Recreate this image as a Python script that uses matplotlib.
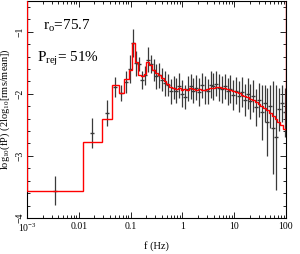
import numpy as np
import matplotlib
matplotlib.use("Agg")
import matplotlib.pyplot as plt
from matplotlib.ticker import LogLocator, MultipleLocator, NullFormatter

plt.rcParams['font.family'] = ['Liberation Serif', 'DejaVu Serif']
plt.rcParams['mathtext.fontset'] = 'custom'
plt.rcParams['mathtext.rm'] = 'Liberation Serif'
plt.rcParams['mathtext.it'] = 'Liberation Serif:italic'

# bin edges (Hz)
edges = [0.001, 0.0120, 0.0281, 0.0438, 0.0597, 0.0746, 0.0931, 0.106, 0.122, 0.139,
         0.158, 0.179, 0.203, 0.231, 0.262, 0.297, 0.337, 0.383, 0.434, 0.493,
         0.559, 0.635, 0.720, 0.818, 0.928, 1.05, 1.20, 1.36, 1.54, 1.75,
         1.99, 2.25, 2.56, 2.90, 3.29, 3.74, 4.24, 4.81, 5.46, 6.20,
         7.04, 7.99, 9.06, 10.3, 11.7, 13.3, 15.0, 17.1, 19.4, 22.0,
         25.0, 28.3, 32.1, 36.5, 41.4, 47.0, 53.3, 60.5, 68.7, 78.0,
         88.5, 100.0]

# binned model (red)
model = [-3.56, -2.78, -2.40, -1.86, -1.99, -1.76, -1.62, -1.18, -1.49,
         -1.70, -1.71, -1.68, -1.49, -1.54, -1.62, -1.67, -1.70, -1.75, -1.80,
         -1.84, -1.89, -1.91, -1.92, -1.91, -1.94, -1.92, -1.94, -1.91, -1.92,
         -1.94, -1.92, -1.94, -1.94, -1.92, -1.91, -1.91, -1.89, -1.89, -1.91,
         -1.91, -1.92, -1.94, -1.95, -1.97, -1.99, -2.02, -2.04, -2.05, -2.08,
         -2.10, -2.13, -2.16, -2.20, -2.23, -2.26, -2.31, -2.35, -2.40, -2.45,
         -2.50, -2.56]

# data points and errors
power = [-3.56, -2.63, -2.31, -1.89, -1.99, -1.81, -1.60, -1.18, -1.51,
         -1.52, -1.78, -1.70, -1.45, -1.52, -1.62, -1.72, -1.70, -1.77, -1.83,
         -1.86, -1.96, -1.90, -1.95, -1.87, -2.00, -2.05, -1.92, -1.88, -1.95,
         -1.90, -1.97, -1.86, -1.94, -1.96, -1.85, -1.88, -1.84, -1.90, -1.93,
         -1.88, -1.96, -1.92, -2.02, -1.95, -2.04, -1.97, -2.10, -2.00, -2.12,
         -2.03, -2.22, -2.10, -2.30, -2.15, -2.45, -2.20, -2.55, -2.70, -2.25,
         -2.15, -2.30]
err = [0.23, 0.24, 0.21, 0.16, 0.13, 0.17, 0.23, 0.22, 0.20,
       0.12, 0.14, 0.15, 0.20, 0.15, 0.18, 0.20, 0.20, 0.18, 0.20,
       0.18, 0.20, 0.18, 0.20, 0.20, 0.22, 0.20, 0.20, 0.20, 0.20,
       0.20, 0.22, 0.20, 0.22, 0.20, 0.22, 0.22, 0.20, 0.22, 0.22,
       0.20, 0.22, 0.22, 0.24, 0.22, 0.25, 0.24, 0.26, 0.25, 0.28,
       0.26, 0.30, 0.28, 0.45, 0.30, 0.55, 0.35, 0.75, 0.85, 0.35,
       0.30, 0.40]

xticks = [1e-3, 1e-2, 1e-1, 1, 10, 100]
xticklabels = ["10$^{-3}$", "0.01", "0.1", "1", "10", "100"]
yticks = [-4, -3, -2, -1]
yticklabels = ["\u22124", "\u22123", "\u22122", "\u22121"]

e = np.array(edges)
fc = np.sqrt(e[:-1] * e[1:])

fig = plt.figure(figsize=(3.0, 2.54), dpi=100)
ax = fig.add_axes([0.09, 0.142, 0.863, 0.855])

ax.errorbar(fc, power, yerr=err, fmt="_", color="#3a3a3a", ms=3, lw=0.9,
            elinewidth=0.9, capsize=0, zorder=2)
ax.stairs(model, edges, color="red", lw=1.0, zorder=3)

ax.set_xscale("log")
ax.set_xlim(1e-3, 100)
ax.set_ylim(-4, -0.5)
ax.set_xticks(xticks)
ax.set_xticklabels(xticklabels)
ax.xaxis.set_minor_locator(LogLocator(base=10, subs=np.arange(2, 10)))
ax.xaxis.set_minor_formatter(NullFormatter())
ax.set_yticks(yticks)
ax.set_yticklabels(yticklabels, rotation=90, va="center")
ax.yaxis.set_minor_locator(MultipleLocator(0.2))
ax.tick_params(which="both", direction="in", top=True, right=True, labelsize=7, width=0.6)
ax.tick_params(which="major", length=4)
ax.tick_params(which="minor", length=2)
ax.tick_params(axis="x", pad=3)
ax.tick_params(axis="y", pad=2)
for s in ax.spines.values():
    s.set_linewidth(0.8)

ax.set_xlabel("f (Hz)", fontsize=7.5, labelpad=5)
ax.set_ylabel("log$_{10}$(fP) (2log$_{10}$[rms/mean])", fontsize=7.5, labelpad=2)

ax.text(0.06, 0.885, r"r$_\mathrm{o}$=75.7", transform=ax.transAxes, fontsize=11, va="center")
ax.text(0.038, 0.73, r"P$_\mathrm{rej}$= 51%", transform=ax.transAxes, fontsize=11, va="center")

fig.savefig("out.png", dpi=100)
